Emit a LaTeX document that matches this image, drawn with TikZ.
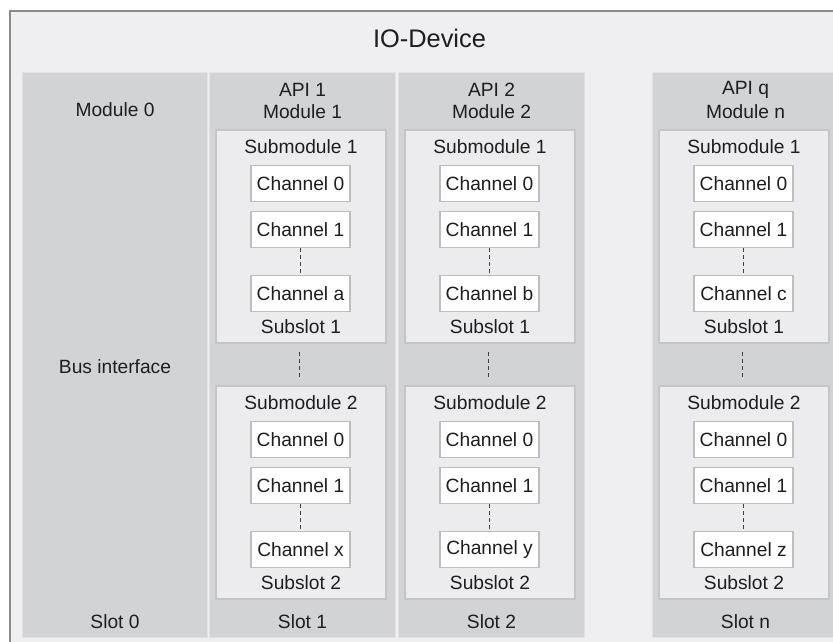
\documentclass[tikz,border=0pt]{standalone}
\usepackage{fontspec}
\setmainfont{Liberation Sans}
\usetikzlibrary{calc}
\definecolor{outerbg}{HTML}{EFEFF1}
\definecolor{outerln}{HTML}{8A8A8A}
\definecolor{colbg}{HTML}{D2D3D5}
\definecolor{colln}{HTML}{E2E2E4}
\definecolor{subbg}{HTML}{ECECEE}
\definecolor{subln}{HTML}{C4C5C7}
\definecolor{chln}{HTML}{BEBEC0}
\definecolor{txt}{HTML}{1E1E1E}
\begin{document}
\begin{tikzpicture}[x=1pt,y=-1pt,
  every node/.style={font=\fontsize{19.2}{21}\selectfont, text=txt, inner sep=0pt},
  colbox/.style={draw=colln, line width=1pt, fill=colbg, minimum width=186pt, minimum height=565pt},
  subbox/.style={draw=subln, line width=1.5pt, fill=subbg, minimum width=170pt, minimum height=213pt},
  chbox/.style={draw=chln, line width=1.5pt, fill=white, minimum width=99pt, minimum height=36pt},
  dots/.style={draw=black!75, line width=0.9pt, dash pattern=on 4pt off 3pt}]
\useasboundingbox (0,0) rectangle (833,641);
\clip (0,0) rectangle (833,641);
\fill[white] (0,0) rectangle (833,641);
\draw[draw=outerln, line width=1.5pt, fill=outerbg] (10,11) rectangle (850,660);
\node[font=\fontsize{25.4}{28}\selectfont] (title) at (429.5,38) {IO-Device};
% slot 0
\node[colbox, minimum width=185pt] (col0) at (114.5,354.5) {};
\node (m0) at (115,109.5) {Module 0};
\node (bus) at (115,367) {Bus interface};
\node (s0) at (115,622) {Slot 0};
% generic columns
\foreach \cx/\api/\mod/\sl/\na/\nb/\id in {302.5/API 1/Module 1/Slot 1/a/x/A, 491.5/API 2/Module 2/Slot 2/b/y/B, 745.5/API q/Module n/Slot n/c/z/C}{
  \node[colbox] (col\id) at (\cx,354.5) {};
  \node (api\id) at (\cx,90) {\api};
  \node (mod\id) at (\cx,112) {\mod};
  \node (slot\id) at (\cx,622) {\sl};
  \foreach \k/\dy/\last in {1/0/\na, 2/256/\nb}{
    \node[subbox] (sub\id\k) at (\cx-1.5,236.5+\dy) {};
    \node (subt\id\k) at (\cx-1.5,147+\dy) {Submodule \k};
    \node[chbox] (ch\id\k o) at (\cx-2,183.5+\dy) {Channel 0};
    \node[chbox] (ch\id\k i) at (\cx-2,229.5+\dy) {Channel 1};
    \node[chbox] (ch\id\k l) at (\cx-2,293.5+\dy) {Channel \last};
    \node (ss\id\k) at (\cx-1.5,327+\dy) {Subslot \k};
    \draw[dots] (ch\id\k i.south) -- (ch\id\k l.north);
  }
  \draw[dots] ($(sub\id1.south)+(-1.5,8)$) -- ($(sub\id2.north)+(-1.5,-8)$);
}
\end{tikzpicture}
\end{document}
